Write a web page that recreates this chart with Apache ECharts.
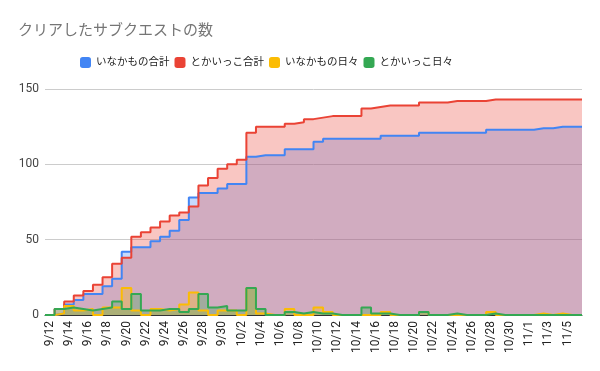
<!DOCTYPE html>
<html>
<head>
<meta charset="utf-8">
<script src="https://cdn.jsdelivr.net/npm/echarts@6/dist/echarts.min.js"></script>
<style>
html,body{margin:0;padding:0;background:#fff;}
#chart{width:600px;height:371px;}
</style>
</head>
<body>
<div id="chart"></div>
<script>
// Categories (dates)
var dates = ['9/12','9/13','9/14','9/15','9/16','9/17','9/18','9/19','9/20','9/21',
  '9/22','9/23','9/24','9/25','9/26','9/27','9/28','9/29','9/30','10/1',
  '10/2','10/3','10/4','10/5','10/6','10/7','10/8','10/9','10/10','10/11',
  '10/12','10/13','10/14','10/15','10/16','10/17','10/18','10/19','10/20','10/21',
  '10/22','10/23','10/24','10/25','10/26','10/27','10/28','10/29','10/30','10/31',
  '11/1','11/2','11/3','11/4','11/5','11/6'];

// いなかもの合計
var inakaTotal = [0,1,7,10,14,14,19,24,42,45,
  45,49,52,56,63,78,81,81,84,87,
  87,105,106,106,106,110,110,110,115,117,
  117,117,117,117,117,119,119,119,119,121,
  121,121,121,121,121,121,123,123,123,123,
  123,124,124,125,125,125];

// とかいっこ合計
var tokaiTotal = [0,4,9,13,16,20,25,34,38,52,
  55,58,62,66,68,72,86,91,97,100,
  103,121,125,125,125,127,128,130,131,132,
  132,132,132,137,138,139,139,139,139,141,
  141,141,142,142,142,142,143,143,143,143,
  143,143,143,143,143,143];

// いなかもの日々
var inakaDaily = [0,1,6,3,4,0,5,5,18,3,
  0,4,3,4,7,15,3,0,3,3,
  0,18,1,0,0,4,0,0,5,2,
  0,0,0,0,0,2,0,0,0,2,
  0,0,0,0,0,0,2,0,0,0,
  0,1,0,1,0,0];

// とかいっこ日々
var tokaiDaily = [0,4,5,4,3,4,5,9,4,14,
  3,3,4,4,2,4,14,5,6,3,
  3,18,4,0,0,2,1,2,1,1,
  0,0,0,5,1,1,0,0,0,2,
  0,0,1,0,0,0,1,0,0,0,
  0,0,0,0,0,0];

var yTicks = [0, 50, 100, 150];

var seriesNames = ['いなかもの合計','とかいっこ合計','いなかもの日々','とかいっこ日々'];
var colors = ['#4285F4','#EA4335','#FBBC04','#34A853'];
var seriesData = [inakaTotal, tokaiTotal, inakaDaily, tokaiDaily];

// edge positions: one more than categories so each day's step spans its whole band
var edges = dates.concat(['']);

var font = "Roboto, 'Noto Sans CJK JP', sans-serif";

var chart = echarts.init(document.getElementById('chart'), null, {renderer: 'canvas'});
chart.setOption({
  animation: false,
  color: colors,
  textStyle: {fontFamily: font},
  title: {
    text: 'クリアしたサブクエストの数',
    left: 13, top: 19,
    textStyle: {fontSize: 15, fontWeight: 'normal', color: '#757575', fontFamily: font}
  },
  legend: {
    top: 52, left: 75,
    icon: 'roundRect',
    itemWidth: 11, itemHeight: 11, itemGap: 5,
    textStyle: {fontSize: 10.5, color: '#222', fontFamily: font},
    data: seriesNames
  },
  grid: {left: 45, right: 18, top: 89, bottom: 56, containLabel: false},
  xAxis: [{
    type: 'category',
    data: dates,
    boundaryGap: true,
    axisTick: {show: false},
    axisLine: {show: true, lineStyle: {color: '#333'}},
    axisLabel: {interval: 1, rotate: 90, fontSize: 12, color: '#222', margin: 6, fontFamily: font}
  }, {
    type: 'category',
    data: edges,
    boundaryGap: false,
    show: false
  }],
  yAxis: {
    type: 'value',
    min: yTicks[0], max: yTicks[yTicks.length - 1], interval: 50,
    axisLine: {show: false},
    axisTick: {show: false},
    axisLabel: {fontSize: 12, color: '#444', margin: 6, fontFamily: font},
    splitLine: {lineStyle: {color: '#cccccc'}}
  },
  series: seriesData.map(function (d, i) {
    return {
      name: seriesNames[i],
      type: 'line',
      xAxisIndex: 1,
      step: 'end',
      symbol: 'none',
      data: d.concat([d[d.length - 1]]),
      lineStyle: {width: 2, color: colors[i]},
      itemStyle: {color: colors[i]},
      areaStyle: {color: colors[i], opacity: 0.3}
    };
  })
});
</script>
</body>
</html>
